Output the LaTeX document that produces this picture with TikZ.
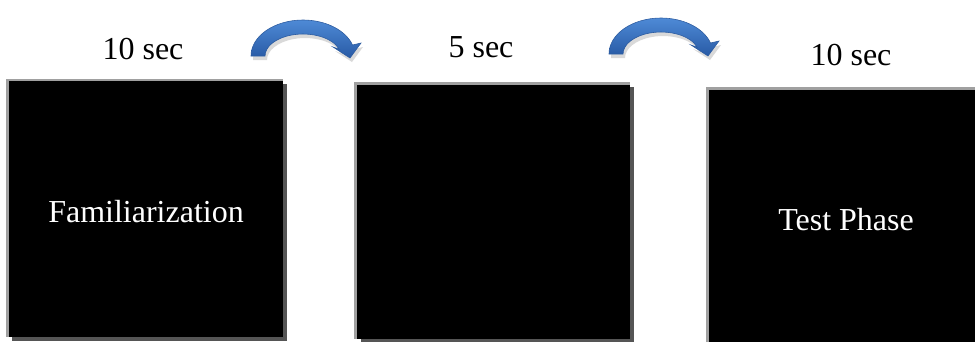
\documentclass[tikz,border=0pt]{standalone}
\usepackage{fontspec}
\setmainfont{Liberation Serif}
\definecolor{arrowtop}{RGB}{78,138,214}
\definecolor{arrowbot}{RGB}{40,90,165}
\definecolor{arrowedge}{RGB}{45,92,160}
\definecolor{bevel}{RGB}{160,160,160}
\definecolor{shadowgray}{RGB}{85,85,85}
\tikzset{
  lbl/.style={anchor=base, inner sep=0pt, font=\fontsize{32}{32}\selectfont},
  inlbl/.style={lbl, text=white},
  arrowbody/.style={top color=arrowtop, bottom color=arrowbot, draw=arrowedge, line width=0.6pt},
  arrowshadow/.style={fill=black, opacity=0.15}
}
\begin{document}
\begin{tikzpicture}[x=1pt,y=-1pt]
\useasboundingbox (0,0) rectangle (975,341);
% box 1
\fill[shadowgray] (12,84) rectangle (287,341);
\fill[bevel] (6,79) rectangle (283,337);
\fill[black] (9,81) rectangle (283,337);
% box 2
\fill[shadowgray] (361,87) rectangle (634,343);
\fill[bevel] (354,82) rectangle (630,339);
\fill[black] (357,85) rectangle (630,339);
% box 3
\fill[shadowgray] (713,92) rectangle (980,346);
\fill[bevel] (706,87) rectangle (980,346);
\fill[black] (709,90) rectangle (980,346);
% labels
\node[lbl] (t1) at (143,59) {10 sec};
\node[lbl] (t2) at (481,57) {5 sec};
\node[lbl] (t3) at (851,65) {10 sec};
\node[inlbl] (l1) at (146,222) {Familiarization};
\node[inlbl] (l3) at (846,230) {Test Phase};
% arrows
\foreach \dx/\dy in {0/0, 358/-2}{
\begin{scope}[shift={(\dx,\dy)}]
\path[arrowshadow, shift={(2,4)}] (251,56) arc[start angle=180, end angle=342.2, x radius=52, y radius=36]
  -- (361,43) -- (350,58) -- (333,47) -- (339.2,49.3)
  arc[start angle=342.2, end angle=180, x radius=38, y radius=22] -- cycle;
\shade[arrowbody] (251,56) arc[start angle=180, end angle=342.2, x radius=52, y radius=36]
  -- (361,43) -- (350,58) -- (333,47) -- (339.2,49.3)
  arc[start angle=342.2, end angle=180, x radius=38, y radius=22] -- cycle;
\end{scope}
}
\end{tikzpicture}
\end{document}
